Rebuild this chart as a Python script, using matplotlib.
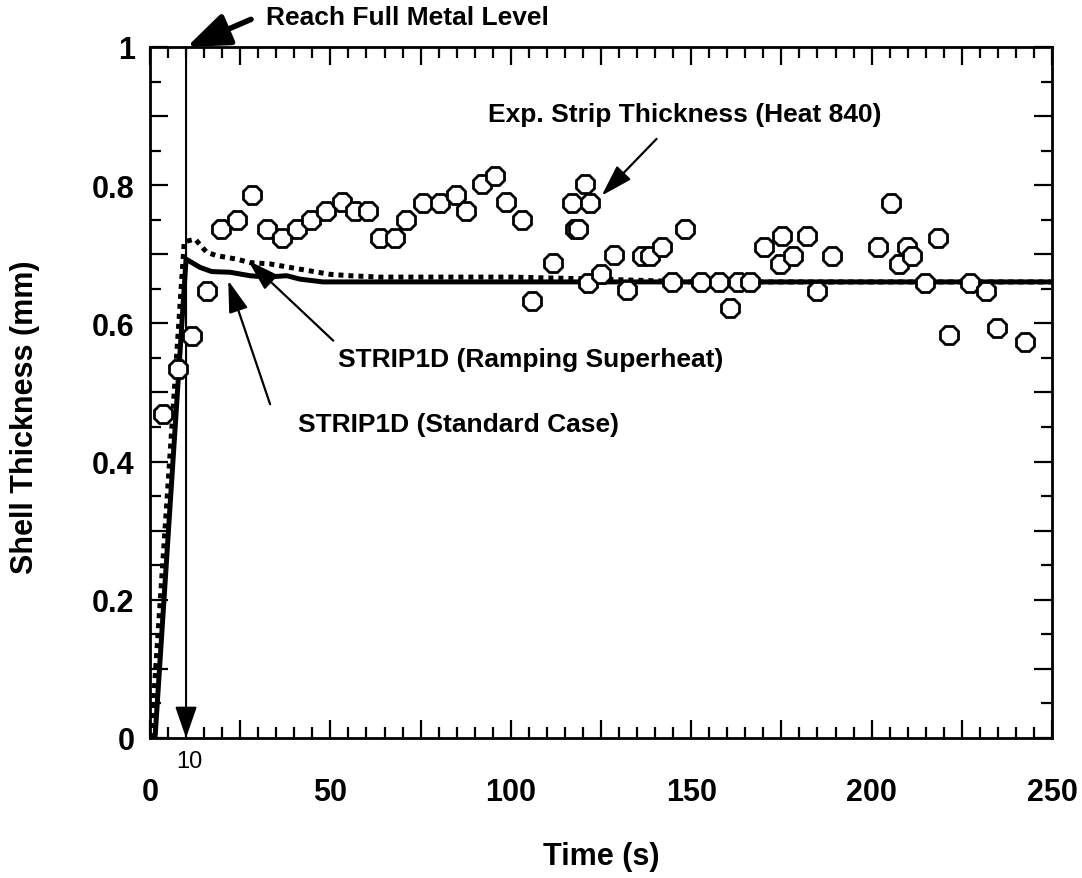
#Shell thickness vs time: STRIP1D model curves against
#measured strip thickness (Heat 840)

import matplotlib
matplotlib.use('Agg')
import matplotlib.pyplot as plt
from matplotlib.ticker import MultipleLocator, FuncFormatter

plt.rcParams['font.family'] = ['Liberation Sans', 'DejaVu Sans']

#measured points (time in s, thickness in mm)
exp_t = [3.7, 7.9, 11.6, 15.9, 19.6, 24.0, 28.2, 32.5, 36.5, 40.7,
         44.6, 48.8, 53.1, 56.8, 60.5, 63.7, 67.9, 70.9, 75.8, 80.4,
         84.7, 87.5, 92.1, 95.6, 98.6, 103.0, 105.8, 111.8, 116.9, 117.8,
         118.6, 120.6, 122.0, 121.3, 125.0, 128.5, 132.2, 136.4, 138.7, 141.8,
         144.8, 148.3, 152.8, 157.8, 160.8, 163.0, 166.3, 170.3, 174.6, 175.3,
         178.3, 182.0, 184.9, 189.0, 201.7, 205.4, 207.6, 209.7, 211.3, 214.8,
         218.5, 221.4, 227.3, 231.6, 234.7, 242.5]
exp_y = [0.469, 0.534, 0.582, 0.647, 0.737, 0.749, 0.786, 0.737, 0.724, 0.737,
         0.749, 0.763, 0.775, 0.763, 0.763, 0.724, 0.724, 0.749, 0.774, 0.774,
         0.786, 0.763, 0.802, 0.814, 0.775, 0.749, 0.633, 0.687, 0.774, 0.737,
         0.737, 0.802, 0.774, 0.659, 0.672, 0.699, 0.648, 0.698, 0.698, 0.710,
         0.660, 0.737, 0.660, 0.660, 0.622, 0.660, 0.660, 0.710, 0.686, 0.726,
         0.698, 0.726, 0.647, 0.698, 0.710, 0.774, 0.686, 0.710, 0.698, 0.659,
         0.724, 0.583, 0.659, 0.647, 0.594, 0.573]

#STRIP1D standard case
std_t = [1.4, 10.0, 13.9, 17.1, 22.2, 27.7, 32.3, 37.9, 41.6, 48.0, 250.0]
std_y = [0.0, 0.693, 0.681, 0.675, 0.674, 0.669, 0.667, 0.669, 0.664, 0.660, 0.660]

#STRIP1D ramping superheat
ramp_t = [0.3, 9.5, 12.5, 15.7, 18.5, 24.0, 27.7, 33.3, 38.8, 44.3,
          49.9, 55.4, 63.7, 100.0, 125.0, 150.0, 250.0]
ramp_y = [0.0, 0.718, 0.722, 0.703, 0.698, 0.693, 0.688, 0.686, 0.681, 0.676,
          0.671, 0.669, 0.667, 0.667, 0.664, 0.660, 0.660]

fig = plt.figure(figsize=(10.82, 8.79), dpi=100)
ax = fig.add_axes([0.1386, 0.1593, 0.8337, 0.7861])

ax.plot(ramp_t, ramp_y, color='black', lw=3.6, linestyle=(0, (1, 1)),
        dash_capstyle='butt', zorder=2)
ax.plot(std_t, std_y, color='black', lw=3.6, solid_joinstyle='round', zorder=3)
ax.plot(exp_t, exp_y, linestyle='none', marker='8', markersize=13.5,
        markerfacecolor='white', markeredgecolor='black', markeredgewidth=2,
        zorder=4)

ax.set_xlim(0, 250)
ax.set_ylim(0, 1)

#ticks on all sides, inward
ax.xaxis.set_major_locator(MultipleLocator(25))
ax.xaxis.set_minor_locator(MultipleLocator(5))
ax.yaxis.set_major_locator(MultipleLocator(0.1))
ax.yaxis.set_minor_locator(MultipleLocator(0.05))
ax.xaxis.set_major_formatter(FuncFormatter(
    lambda v, p: '%d' % round(v) if round(v) % 50 == 0 else ''))
ax.yaxis.set_major_formatter(FuncFormatter(
    lambda v, p: ('%g' % round(v, 1)) if round(v * 10) % 2 == 0 else ''))
ax.tick_params(which='both', direction='in', top=True, right=True, width=1.6)
ax.tick_params(which='major', length=13)
ax.tick_params(which='minor', length=8)
ax.tick_params(axis='x', which='major', pad=28)
ax.tick_params(axis='y', which='major', pad=11)
for lab in ax.get_xticklabels() + ax.get_yticklabels():
    lab.set_fontsize(22)
    lab.set_fontweight('bold')
for s in ax.spines.values():
    s.set_linewidth(2)

ax.set_xlabel('Time (s)', fontsize=22, fontweight='bold', va='center')
ax.xaxis.set_label_coords(0.5, -0.171)
ax.set_ylabel('Shell Thickness (mm)', fontsize=22, fontweight='bold', va='center')
ax.yaxis.set_label_coords(-0.139, 0.465)

#full metal level marker at t=10 s
ax.annotate('', xy=(10, 0.0), xytext=(10, 1.0),
            arrowprops=dict(arrowstyle='-|>,head_length=1.3,head_width=0.45',
                            color='black', lw=1.5, mutation_scale=15,
                            shrinkA=0, shrinkB=0))
ax.text(11, -0.033, '10', fontsize=17, ha='center', va='center')

ax.annotate('', xy=(10.2, 1.0), xytext=(28, 1.04), annotation_clip=False,
            arrowprops=dict(arrowstyle='-|>,head_length=1.3,head_width=0.5',
                            color='black', lw=4, mutation_scale=20,
                            shrinkA=0, shrinkB=0))
ax.text(32.2, 1.043, 'Reach Full Metal Level', fontsize=19, fontweight='bold',
        ha='left', va='center', clip_on=False)

ax.annotate('', xy=(125.2, 0.785), xytext=(140.4, 0.867),
            arrowprops=dict(arrowstyle='-|>,head_length=1.3,head_width=0.4',
                            color='black', lw=1.6, mutation_scale=15,
                            shrinkA=0, shrinkB=0))
ax.text(93.7, 0.903, 'Exp. Strip Thickness (Heat 840)', fontsize=19,
        fontweight='bold', ha='left', va='center')

ax.annotate('', xy=(27.2, 0.691), xytext=(50.8, 0.575),
            arrowprops=dict(arrowstyle='-|>,head_length=1.3,head_width=0.4',
                            color='black', lw=1.6, mutation_scale=15,
                            shrinkA=0, shrinkB=0))
ax.text(52.2, 0.548, 'STRIP1D (Ramping Superheat)', fontsize=19,
        fontweight='bold', ha='left', va='center')

ax.annotate('', xy=(21.7, 0.662), xytext=(33.3, 0.483),
            arrowprops=dict(arrowstyle='-|>,head_length=1.3,head_width=0.4',
                            color='black', lw=1.6, mutation_scale=15,
                            shrinkA=0, shrinkB=0))
ax.text(41.1, 0.454, 'STRIP1D (Standard Case)', fontsize=19,
        fontweight='bold', ha='left', va='center')

fig.savefig('out.png', dpi=100)
